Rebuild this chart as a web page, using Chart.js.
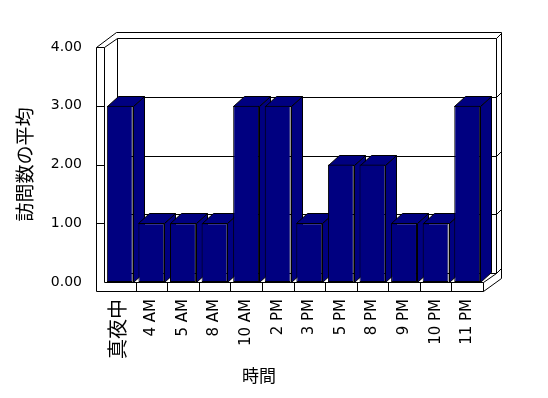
<!DOCTYPE html>
<html>
<head>
<meta charset="utf-8">
<script src="https://cdn.jsdelivr.net/npm/chart.js@4.4.1/dist/chart.umd.min.js"></script>
<style>
  html, body { margin: 0; padding: 0; background: #fff; }
</style>
</head>
<body>
<canvas id="visitChart" width="548" height="398"></canvas>
<script>
// data
const hours = ['真夜中', '4 AM', '5 AM', '8 AM', '10 AM', '2 PM', '3 PM', '5 PM', '8 PM', '9 PM', '10 PM', '11 PM'];
const avgVisits = [3, 1, 1, 1, 3, 3, 1, 2, 2, 1, 1, 3];
const yTickValues = [0, 1, 2, 3, 4];

const yTitle = '訪問数の平均';
const xTitle = '時間';

const NAVY = '#000080';
const WALL = { dx: 13, dy: -9 };   // back wall offset
const BAR = { dx: 11, dy: -10 };   // bar depth
const SLAB = 5;                    // back wall thickness

function line(ctx, x1, y1, x2, y2) {
  ctx.beginPath();
  ctx.moveTo(Math.round(x1) + 0.5, Math.round(y1) + 0.5);
  ctx.lineTo(Math.round(x2) + 0.5, Math.round(y2) + 0.5);
  ctx.stroke();
}

function poly(ctx, pts) {
  ctx.beginPath();
  pts.forEach((p, i) => {
    const x = Math.round(p[0]) + 0.5, y = Math.round(p[1]) + 0.5;
    if (i === 0) ctx.moveTo(x, y); else ctx.lineTo(x, y);
  });
  ctx.closePath();
  ctx.fill();
  ctx.stroke();
}

// draws the 3d box (walls, floor) and the depth faces of the bars
const box3d = {
  id: 'box3d',
  beforeDatasetsDraw(chart) {
    const { ctx, chartArea: a, scales: { y } } = chart;
    const L = a.left, R = a.right, T = a.top, B = a.bottom;
    const bl = L + WALL.dx, br = R + WALL.dx, bt = T + WALL.dy, bb = B + WALL.dy;
    ctx.save();
    ctx.strokeStyle = '#000';
    ctx.lineWidth = 1;

    // back wall
    line(ctx, bl, bt, br, bt);
    line(ctx, bl, bt, bl, bb);
    line(ctx, br, bt, br, bb);
    line(ctx, bl, bb, br, bb);
    yTickValues.forEach(v => {
      const yb = y.getPixelForValue(v) + WALL.dy;
      if (v > 0 && v < 4) line(ctx, bl, yb, br, yb);
      line(ctx, br, yb, br + SLAB, yb - SLAB);
    });
    // back wall outer edge
    line(ctx, bl - 1, bt - 6, br + SLAB, bt - 6);
    line(ctx, br + SLAB, bt - 6, br + SLAB, B + 9 - 13);

    // left wall slab
    line(ctx, L - 8, T, L - 8, B + 9);
    line(ctx, L, T, L, B);
    line(ctx, L - 8, T, L, T);
    line(ctx, L - 8, T, bl - 1, bt - 6);
    line(ctx, L, T, bl, bt);
    yTickValues.forEach(v => {
      if (v > 0 && v < 4) {
        const yf = y.getPixelForValue(v);
        line(ctx, L - 8, yf, L, yf);
      }
    });

    // floor slab
    line(ctx, L, B, R, B);
    line(ctx, L - 8, B + 9, R, B + 9);
    line(ctx, R, B, R, B + 9);
    line(ctx, R, B, br, bb);
    line(ctx, R, B + 9, br + SLAB, B + 9 - 13);
    const step = (R - L) / hours.length;
    for (let i = 1; i < hours.length; i++) {
      line(ctx, L + step * i, B, L + step * i, B + 9);
    }

    // bar depth faces, left to right
    ctx.fillStyle = NAVY;
    chart.getDatasetMeta(0).data.forEach(bar => {
      const p = bar.getProps(['x', 'y', 'base', 'width'], true);
      const l = p.x - p.width / 2, r = p.x + p.width / 2, t = p.y, b = p.base;
      poly(ctx, [[r, t], [r + BAR.dx, t + BAR.dy], [r + BAR.dx, b + BAR.dy], [r, b]]);
      poly(ctx, [[l, t], [l + BAR.dx, t + BAR.dy], [r + BAR.dx, t + BAR.dy], [r, t]]);
    });
    ctx.restore();
  },
  afterDraw(chart) {
    const { ctx } = chart;
    ctx.save();
    ctx.fillStyle = '#000';
    ctx.font = "17px 'Noto Sans CJK JP'";
    ctx.textAlign = 'center';
    ctx.textBaseline = 'middle';
    ctx.fillText(xTitle, 259, 376);
    ctx.restore();
  }
};

Chart.defaults.color = '#000';
Chart.defaults.font.family = "'DejaVu Sans', 'Noto Sans CJK JP'";

const canvas = document.getElementById('visitChart');
new Chart(canvas, {
  type: 'bar',
  data: {
    labels: hours,
    datasets: [
      {
        label: yTitle,
        data: avgVisits,
        backgroundColor: NAVY,
        borderColor: '#000',
        borderWidth: 1,
        borderSkipped: false,
        categoryPercentage: 1,
        barPercentage: 0.82,
      },
    ],
  },
  options: {
    responsive: false,
    animation: false,
    devicePixelRatio: 1,
    layout: { padding: { left: 0, right: 65, top: 47, bottom: 0 } },
    plugins: {
      legend: { display: false },
      tooltip: { enabled: false },
    },
    scales: {
      x: {
        grid: { display: false },
        border: { display: false },
        afterFit: (scale) => { scale.height = 116; },
        ticks: {
          autoSkip: false,
          minRotation: 90,
          maxRotation: 90,
          padding: 9,
          font: (c) => ({ size: c.index === 0 ? 20 : 15 }),
        },
      },
      y: {
        min: 0,
        max: 4,
        grid: { display: false },
        border: { display: false },
        afterFit: (scale) => { scale.width = 104; },
        afterBuildTicks: (scale) => { scale.ticks = yTickValues.map(v => ({ value: v })); },
        ticks: {
          padding: 14,
          font: { size: 14 },
          callback: (v) => Number(v).toFixed(2),
        },
        title: {
          display: true,
          text: yTitle,
          font: { family: "'Noto Sans CJK JP'", size: 19 },
          padding: { top: 13, bottom: 0 },
        },
      },
    },
  },
  plugins: [box3d],
});
</script>
</body>
</html>
